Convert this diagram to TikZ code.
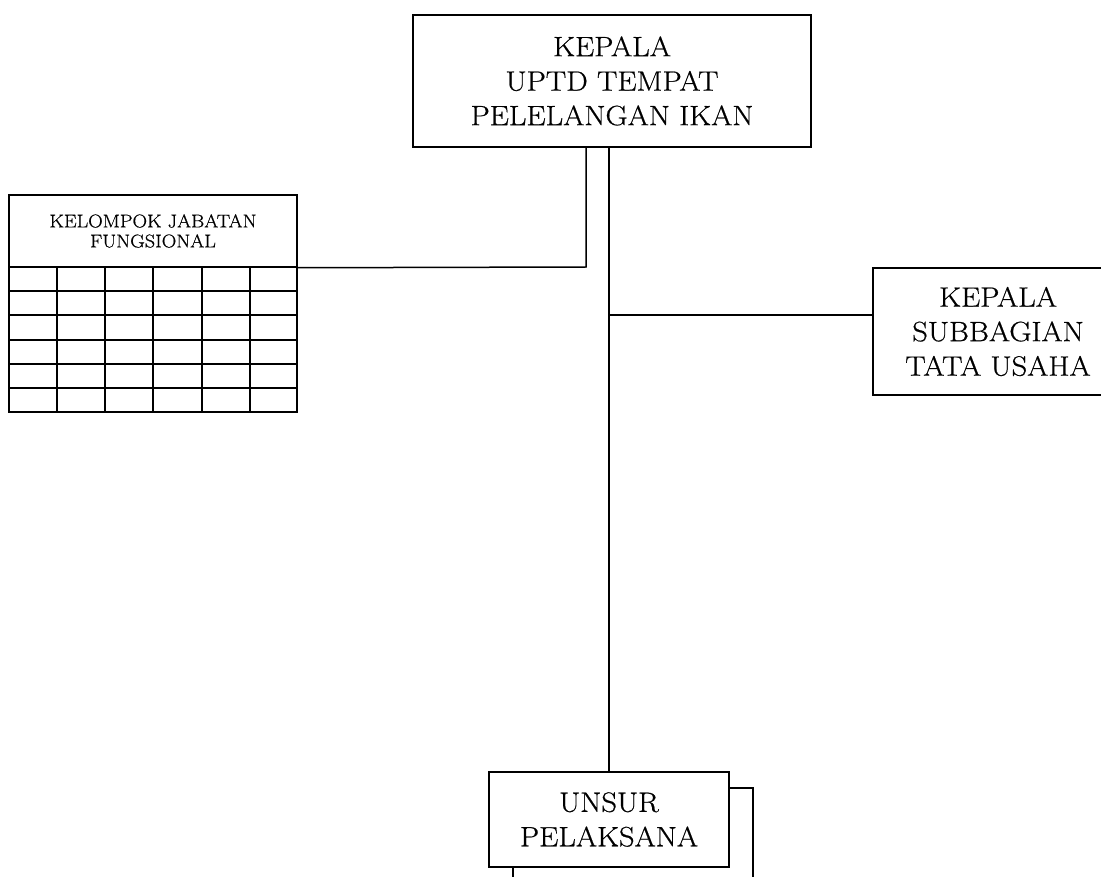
\documentclass[tikz,border=0pt]{standalone}
\usepackage{fontspec}
\setmainfont{Latin Modern Roman}[FakeBold=0.6,FakeStretch=1.09]
\begin{document}
\begin{tikzpicture}[x=1pt,y=-1pt,
  ln/.style={line width=1.5pt},
  box/.style={draw, ln, inner sep=0pt, align=center, fill=white},
  big/.style={font=\fontsize{28}{34.5}\selectfont},
  small/.style={font=\fontsize{18.5}{20}\selectfont}]
\useasboundingbox (0,0) rectangle (1101,877);
% top box
\node[box,big,minimum width=398pt,minimum height=132pt] (top) at (612,81)
  {KEPALA\\UPTD TEMPAT\\PELELANGAN IKAN};
% functional group
\node[box,small,minimum width=288pt,minimum height=72pt] (kjf) at (153,231)
  {KELOMPOK JABATAN\\FUNGSIONAL};
\foreach \x in {9,57,105,153,202,250,297} \draw[ln,line cap=rect] (\x,267) -- (\x,412);
\foreach \y in {267,291,315,340,364,388,412} \draw[ln,line cap=rect] (9,\y) -- (297,\y);
% subbagian
\node[box,big,minimum width=250pt,minimum height=127pt] (kst) at (998,331.5)
  {KEPALA\\SUBBAGIAN\\TATA USAHA};
% unsur pelaksana (stacked)
\draw[ln] (513,788) rectangle (753,905);
\node[box,big,minimum width=240pt,minimum height=95pt] (unsur) at (609,819.5)
  {UNSUR\\PELAKSANA};
% connectors
\coordinate (tl) at (586,267);
\coordinate (m) at (609,315);
\draw[ln] (top.south -| tl) -- (tl) -- (kjf.south east);
\draw[ln] (top.south -| m) -- (unsur.north -| m);
\draw[ln] (m) -- (m -| kst.west);
\end{tikzpicture}
\end{document}
